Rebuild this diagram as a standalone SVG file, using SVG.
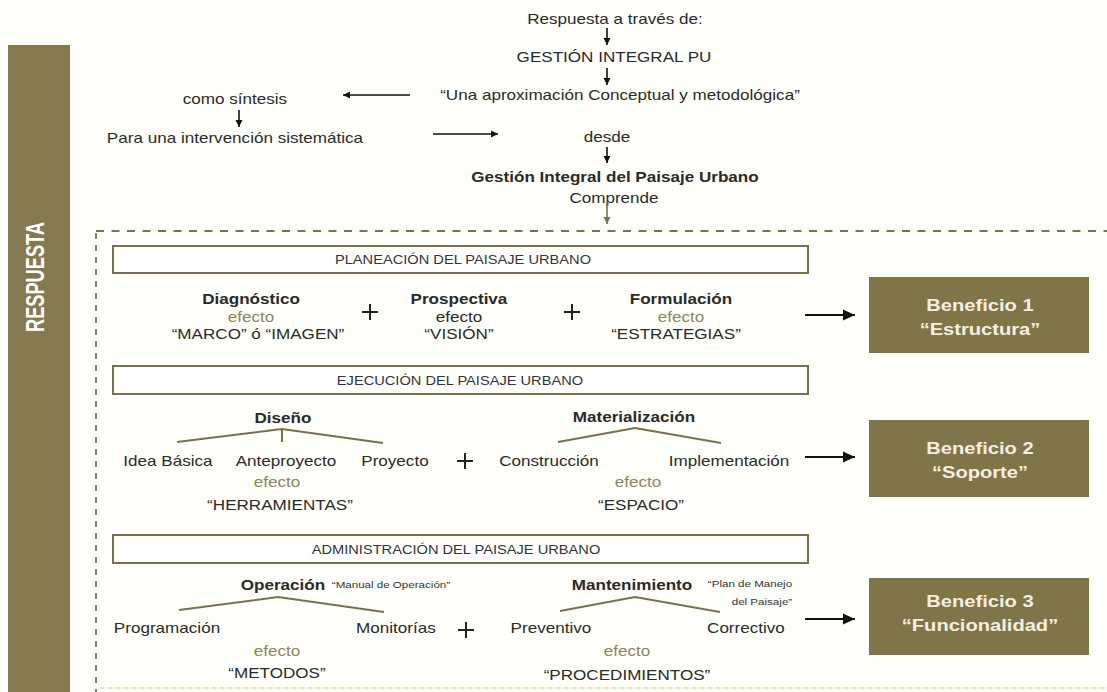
<svg xmlns="http://www.w3.org/2000/svg" width="1107" height="692" viewBox="0 0 1107 692">
<style>
.t{font-family:"Liberation Sans",Arial,sans-serif;font-size:14px;fill:#2a2a2a;text-anchor:middle;transform-box:fill-box;transform-origin:center;transform:scaleX(1.22)}
.b{font-weight:bold}
.o{fill:#8d8461}
.sm{font-size:12px;fill:#333}
.xs{font-size:9.5px;fill:#333}
.bt{font-size:16.5px;font-weight:bold;fill:#f4f0e2}
.box{fill:#fff;stroke:#7a704c;stroke-width:2}
.ben{fill:#807549}
.tree{stroke:#7a704c;stroke-width:2;fill:none}
.ar{stroke:#111;stroke-width:1.6;fill:none}
.arb{stroke:#111;stroke-width:2.2;fill:none}
.plus{stroke:#222;stroke-width:2}
</style>
<defs>
<marker id="hs" markerUnits="userSpaceOnUse" markerWidth="8" markerHeight="8" refX="7" refY="4" orient="auto"><path d="M0,0.5 L7,4 L0,7.5 z" fill="#111"/></marker>
<marker id="hso" markerUnits="userSpaceOnUse" markerWidth="8" markerHeight="8" refX="7" refY="4" orient="auto"><path d="M0,0.5 L7,4 L0,7.5 z" fill="#7a704c"/></marker>
<marker id="hb" markerUnits="userSpaceOnUse" markerWidth="13" markerHeight="12" refX="12" refY="6" orient="auto"><path d="M0,0.5 L12,6 L0,11.5 z" fill="#111"/></marker>
</defs>
<rect width="1107" height="692" fill="#fefefb"/>

<g id="sidebar">
<rect x="8" y="45" width="62" height="647" fill="#857a4f"/>
<text transform="translate(44,277) scale(1.22,1) rotate(-90)" text-anchor="middle" font-family="Liberation Sans, Arial, sans-serif" font-size="21" font-weight="bold" fill="#ffffff" textLength="110" lengthAdjust="spacingAndGlyphs">RESPUESTA</text>
</g>

<g id="frame" fill="none">
<line x1="96" y1="231" x2="1107" y2="231" stroke="#7a7350" stroke-width="2" stroke-dasharray="8,7.5"/>
<line x1="96" y1="233" x2="96" y2="692" stroke="#5e5a45" stroke-width="1.5" stroke-dasharray="6,6"/>
<line x1="100" y1="688" x2="1107" y2="688" stroke="#ebe6b8" stroke-width="2" stroke-dasharray="5,3"/>
</g>

<g id="top">
<text class="t" x="615" y="24">Respuesta a través de:</text>
<text class="t" x="614" y="62">GESTIÓN INTEGRAL PU</text>
<text class="t" x="620" y="100">“Una aproximación Conceptual y metodológica”</text>
<text class="t" x="235" y="104">como síntesis</text>
<text class="t" x="235" y="143">Para una intervención sistemática</text>
<text class="t" x="607" y="142">desde</text>
<text class="t b" x="615" y="182">Gestión Integral del Paisaje Urbano</text>
<text class="t" x="614" y="203">Comprende</text>
</g>

<g id="planeacion">
<rect class="box" x="113" y="246" width="695" height="27"/>
<text class="t sm" x="463" y="264">PLANEACIÓN DEL PAISAJE URBANO</text>
<text class="t b" x="251" y="304">Diagnóstico</text>
<text class="t o" x="251" y="322">efecto</text>
<text class="t" x="258" y="339">“MARCO” ó “IMAGEN”</text>
<text class="t b" x="459" y="304">Prospectiva</text>
<text class="t" x="459" y="322">efecto</text>
<text class="t" x="459" y="339">“VISIÓN”</text>
<text class="t b" x="681" y="304">Formulación</text>
<text class="t o" x="681" y="322">efecto</text>
<text class="t" x="676" y="339">“ESTRATEGIAS”</text>
<path class="plus" d="M362,312 H378 M370,304 V320 M564,312 H580 M572,304 V320"/>
</g>

<g id="ejecucion">
<rect class="box" x="113" y="366" width="695" height="28"/>
<text class="t sm" x="460" y="385">EJECUCIÓN DEL PAISAJE URBANO</text>
<text class="t b" x="283" y="423">Diseño</text>
<path class="tree" d="M177,442 L282,429 L383,443 M282,429 V442"/>
<text class="t" x="168" y="466">Idea Básica</text>
<text class="t" x="286" y="466">Anteproyecto</text>
<text class="t" x="395" y="466">Proyecto</text>
<text class="t o" x="277" y="487">efecto</text>
<text class="t" x="280" y="510">“HERRAMIENTAS”</text>
<path class="plus" d="M457,461 H473 M465,453 V469"/>
<text class="t b" x="634" y="422">Materialización</text>
<path class="tree" d="M558,442 L635,428 L721,443"/>
<text class="t" x="549" y="466">Construcción</text>
<text class="t" x="729" y="466">Implementación</text>
<text class="t o" x="638" y="487">efecto</text>
<text class="t" x="641" y="510">“ESPACIO”</text>
</g>

<g id="administracion">
<rect class="box" x="113" y="535" width="695" height="28"/>
<text class="t sm" x="456" y="554">ADMINISTRACIÓN DEL PAISAJE URBANO</text>
<text class="t b" x="283" y="590">Operación</text>
<text class="t xs" x="391" y="588">“Manual de Operación”</text>
<path class="tree" d="M179,610 L278,597 L384,612"/>
<text class="t" x="167" y="633">Programación</text>
<text class="t" x="396" y="633">Monitorías</text>
<text class="t o" x="277" y="656">efecto</text>
<text class="t" x="277" y="678">“METODOS”</text>
<path class="plus" d="M458,630 H474 M466,622 V638"/>
<text class="t b" x="632" y="590">Mantenimiento</text>
<text class="t xs" x="750" y="587">“Plan de Manejo</text>
<text class="t xs" x="762" y="605">del Paisaje”</text>
<path class="tree" d="M560,611 L635,597 L720,612"/>
<text class="t" x="551" y="633">Preventivo</text>
<text class="t" x="746" y="633">Correctivo</text>
<text class="t o" x="627" y="656">efecto</text>
<text class="t" x="627" y="680">“PROCEDIMIENTOS”</text>
</g>

<g id="beneficio1">
<rect class="ben" x="869" y="277" width="220" height="76"/>
<text class="t bt" x="980" y="311">Beneficio 1</text>
<text class="t bt" x="980" y="335">“Estructura”</text>
</g>
<g id="beneficio2">
<rect class="ben" x="869" y="420" width="220" height="77"/>
<text class="t bt" x="980" y="454">Beneficio 2</text>
<text class="t bt" x="980" y="478">“Soporte”</text>
</g>
<g id="beneficio3">
<rect class="ben" x="869" y="578" width="220" height="77"/>
<text class="t bt" x="980" y="607">Beneficio 3</text>
<text class="t bt" x="980" y="631">“Funcionalidad”</text>
</g>

<g id="connectors">
<line class="ar" x1="607" y1="28" x2="607" y2="45" marker-end="url(#hs)"/>
<line class="ar" x1="607" y1="68" x2="607" y2="85" marker-end="url(#hs)"/>
<line class="ar" x1="410" y1="95" x2="343" y2="95" marker-end="url(#hs)"/>
<line class="ar" x1="239" y1="110" x2="239" y2="127" marker-end="url(#hs)"/>
<line class="ar" x1="433" y1="134" x2="498" y2="134" marker-end="url(#hs)"/>
<line class="ar" x1="607" y1="147" x2="607" y2="163" marker-end="url(#hs)"/>
<line x1="607" y1="201" x2="607" y2="224" stroke="#7a704c" stroke-width="1.6" marker-end="url(#hso)"/>
<line class="arb" x1="805" y1="315" x2="855" y2="315" marker-end="url(#hb)"/>
<line class="arb" x1="805" y1="457" x2="855" y2="457" marker-end="url(#hb)"/>
<line class="arb" x1="805" y1="619" x2="855" y2="619" marker-end="url(#hb)"/>
</g>
</svg>
